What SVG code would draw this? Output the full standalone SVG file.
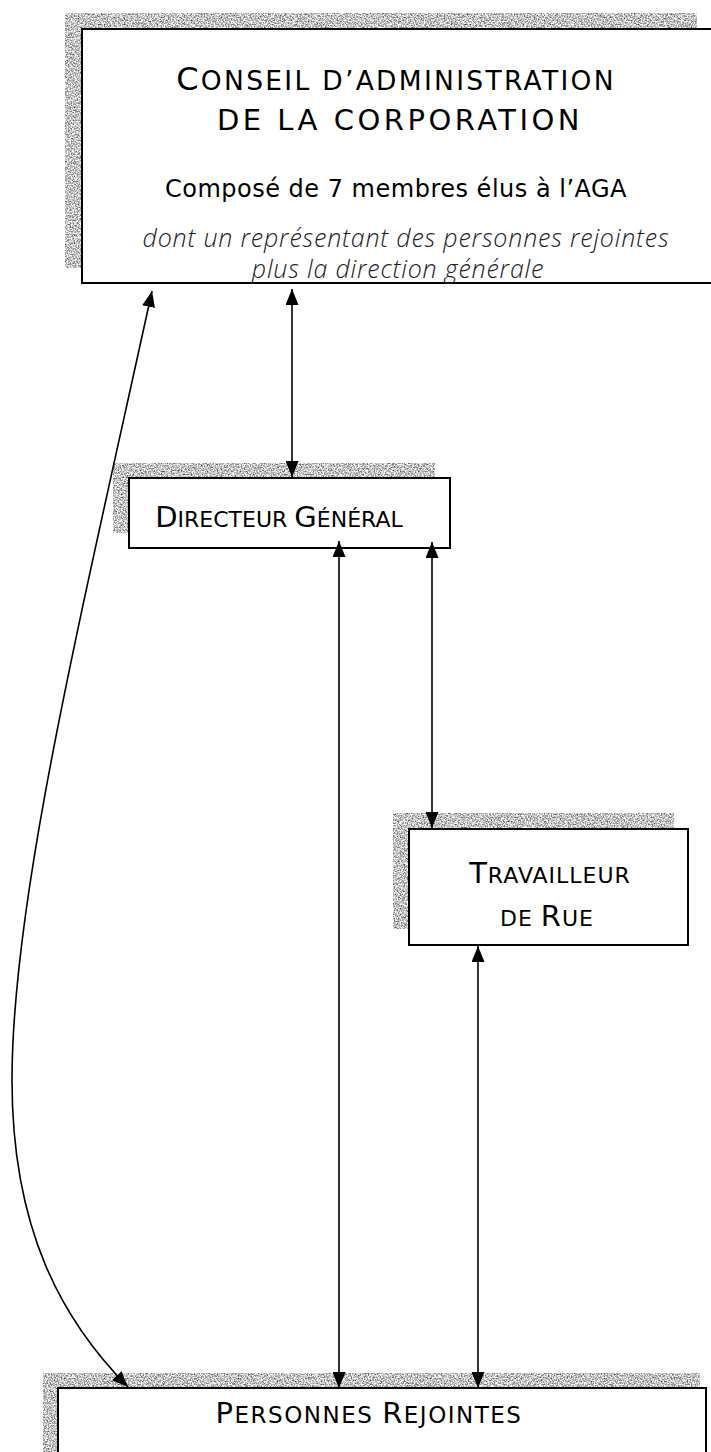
<svg xmlns="http://www.w3.org/2000/svg" width="711" height="1452" viewBox="0 0 711 1452">
  <style>
    .box { fill: #ffffff; stroke: #000000; stroke-width: 2; }
    .shadow { fill: #000000; filter: url(#grain); }
    .t { font-family: "DejaVu Sans", "Liberation Sans", sans-serif; fill: #000000; text-anchor: middle; }
    .sub { font-family: "DejaVu Sans", "Liberation Sans", sans-serif; font-size: 24px; letter-spacing: 0.5px; fill: #000000; text-anchor: middle; }
    .it { font-family: "Open Sans", "DejaVu Sans", sans-serif; font-style: italic; font-weight: 300; font-size: 25px; letter-spacing: 0.8px; fill: #222222; text-anchor: middle; }
    .big { font-size: 29px; }
    .sm { font-size: 22px; }
    .link { fill: none; stroke: #000000; stroke-width: 1.6; marker-start: url(#ah); marker-end: url(#ah); }
  </style>
  <defs>
    <marker id="ah" viewBox="0 0 16 13" refX="16" refY="6.5" markerWidth="16" markerHeight="13" markerUnits="userSpaceOnUse" orient="auto-start-reverse">
      <path d="M0,0 L16,6.5 L0,13 Z" fill="#000000"/>
    </marker>
    <!-- speckled grey fill for the drop shadows -->
    <filter id="grain" x="0" y="0" width="100%" height="100%" color-interpolation-filters="sRGB">
      <feTurbulence type="fractalNoise" baseFrequency="0.7" numOctaves="2" seed="7" result="n"/>
      <feColorMatrix in="n" type="matrix" values="1.5 0 0 0 0.02  1.5 0 0 0 0.02  1.5 0 0 0 0.02  0 0 0 0 1" result="g"/>
      <feComposite in="g" in2="SourceGraphic" operator="in"/>
    </filter>
  </defs>

  <!-- board of directors -->
  <g id="conseil">
    <rect class="shadow" x="65" y="13" width="632" height="255"/>
    <rect class="box" x="82" y="29" width="640" height="254"/>
    <text class="t" x="396" y="90" letter-spacing="2.3px"><tspan font-size="32px">C</tspan><tspan font-size="26.5px">ONSEIL D’ADMINISTRATION</tspan></text>
    <text class="t" x="400" y="130" font-size="29px" letter-spacing="3.5px">DE LA CORPORATION</text>
    <text class="sub" x="396" y="197">Composé de 7 membres élus à l’AGA</text>
    <text class="it" x="406" y="247">dont un représentant des personnes rejointes</text>
    <text class="it" x="398" y="278">plus la direction générale</text>
  </g>

  <!-- general manager -->
  <g id="directeur">
    <rect class="shadow" x="113" y="463" width="322" height="70"/>
    <rect class="box" x="129" y="478" width="321" height="70"/>
    <text class="t" x="279" y="527"><tspan class="big">D</tspan><tspan class="sm">IRECTEUR </tspan><tspan class="big">G</tspan><tspan class="sm">ÉNÉRAL</tspan></text>
  </g>

  <!-- street worker -->
  <g id="travailleur">
    <rect class="shadow" x="393" y="813" width="281" height="116"/>
    <rect class="box" x="409" y="829" width="279" height="116"/>
    <text class="t" x="550" y="883" letter-spacing="1px"><tspan class="big">T</tspan><tspan class="sm">RAVAILLEUR</tspan></text>
    <text class="t" x="547" y="926" letter-spacing="1px"><tspan class="sm">DE </tspan><tspan class="big">R</tspan><tspan class="sm">UE</tspan></text>
  </g>

  <!-- people reached -->
  <g id="personnes">
    <rect class="shadow" x="43" y="1373" width="657" height="90"/>
    <rect class="box" x="58" y="1388" width="648" height="90"/>
    <text class="t" x="369" y="1423" letter-spacing="1.5px"><tspan class="big">P</tspan><tspan font-size="23px">ERSONNES </tspan><tspan class="big">R</tspan><tspan font-size="23px">EJOINTES</tspan></text>
  </g>

  <!-- connectors, drawn over the boxes so the arrowheads stay visible -->
  <g id="connectors">
    <line class="link" x1="292" y1="289" x2="292" y2="477"/>
    <path class="link" d="M152,291 C80,620 12,900 12,1080 C12,1230 62,1320 128,1387"/>
    <line class="link" x1="339" y1="541" x2="339" y2="1388"/>
    <line class="link" x1="432" y1="542" x2="432" y2="828"/>
    <line class="link" x1="478" y1="946" x2="478" y2="1388"/>
  </g>
</svg>
